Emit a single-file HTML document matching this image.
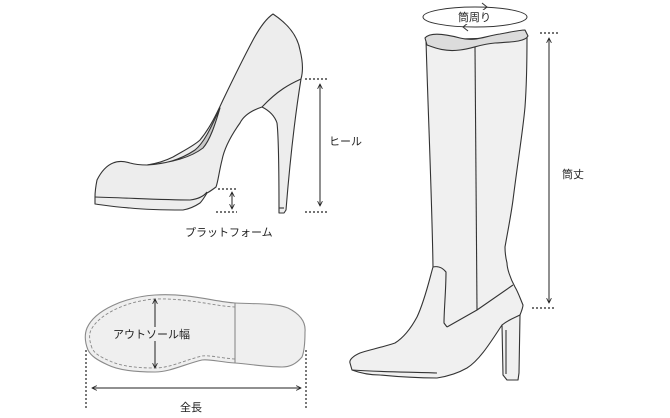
<!DOCTYPE html>
<html><head><meta charset="utf-8"><style>
html,body{margin:0;padding:0;background:#fff;width:670px;height:418px;overflow:hidden}
svg{display:block}
text{font-family:"Liberation Sans","Noto Sans CJK JP",sans-serif;font-size:11px;fill:#222}
</style></head><body>
<svg width="670" height="418" viewBox="0 0 670 418" xmlns="http://www.w3.org/2000/svg">
<defs>
<marker id="a" viewBox="0 0 10 10" refX="9" refY="5" markerWidth="6" markerHeight="6" orient="auto-start-reverse"><path d="M1,1 L9,5 L1,9" fill="none" stroke="#222" stroke-width="1.4"/></marker>
</defs>
<!-- Pump -->
<g stroke="#333" stroke-width="1.1" fill="#ededed" stroke-linejoin="round">
<path d="M273,14 C285,22 297,33 300,50 C303,62 303,72 301,79 C296,110 290,160 286,210 L284,213 L279,213 C279,180 279,140 277,123 C275,117 270,111 262,107 C250,111 243,117 240,123 C230,137 224,150 222,160 C219,172 218,182 216,187 C212,190 209,192 207,193 C204,198 202,201 200,203 C194,207 189,209 183,210 C160,210 140,209 130,208 C115,207 103,205 95,204 L95,197 C95,190 96,185 97,180 C102,170 108,165 113,163 C120,160 127,162 130,163 C137,165 142,165 147,165 C160,163 167,160 173,157 C185,150 195,145 200,140 C210,128 217,113 223,100 C235,75 245,55 253,40 C260,27 267,18 273,14 Z"/>
<path d="M147,165 C165,164 180,160 195,150 C205,142 212,125 220,108 C215,125 210,140 203,148 C190,158 170,163 147,165 Z" fill="#c9c9c9"/>
<path d="M301,79 C290,84 278,90 262,107" fill="none"/>
<path d="M95,197 C130,198 165,200 190,200 C198,199 204,196 207,192" fill="none"/>
<path d="M279,208 L284,208" fill="none"/>
</g>
<g stroke="#222" stroke-width="1.2" stroke-dasharray="2,2">
<path d="M305,79 H327 M305,212 H327 M218,189 H238 M216,212 H237"/>
</g>
<g stroke="#222" stroke-width="1" fill="none">
<path d="M320,84 V206" marker-start="url(#a)" marker-end="url(#a)"/>
<path d="M232,192 V209" marker-start="url(#a)" marker-end="url(#a)"/>
</g>
<text x="329" y="145">ヒール</text>
<text x="185" y="236">プラットフォーム</text>

<!-- Boot -->
<g stroke="#333" stroke-width="1.1" fill="#f0f0f0" stroke-linejoin="round">
<path d="M426,40 C428,110 432,200 433,267 C430,277 425,300 417,317 C410,330 403,338 395,343 C380,348 368,350 360,353 C353,356 349,360 350,363 L352,370 C360,373 370,375 380,375 C400,377 420,378 437,378 C450,376 460,372 467,368 C480,360 492,340 502,325 L503,375 L507,380 L518,380 L519,373 L520,315 C522,310 523,307 523,305 C520,298 518,292 515,287 C510,278 507,268 507,263 C505,255 505,250 505,247 C508,230 511,215 513,200 C518,160 523,130 525,107 C527,80 527,55 527,37 Z"/>
<path d="M425,38 C430,32 445,34 460,38 C475,42 485,36 500,34 C510,32 520,30 525,30 L528,36 C525,42 510,42 495,43 C480,44 472,49 460,50 C445,52 435,48 427,45 Z" fill="#dcdcdc"/>
<path d="M475,47 C476,150 477,250 477,310" fill="none"/>
<path d="M513,285 L477,310 L447,327" fill="none"/>
<path d="M433,267 C437,266 442,267 446,272 C446,290 444,310 444,323 L447,327" fill="none"/>
<path d="M352,370 C380,372 410,372 437,373" fill="none"/>
<path d="M502,325 C508,320 514,318 520,315" fill="none"/>
<path d="M506,330 L506,374" fill="none"/>
</g>
<ellipse cx="475" cy="17" rx="52" ry="10" fill="none" stroke="#333" stroke-width="1"/>
<path d="M482,3 L487,7 L482,11" fill="none" stroke="#333" stroke-width="1"/>
<path d="M468,23 L463,27 L468,31" fill="none" stroke="#333" stroke-width="1"/>
<rect x="457" y="10" width="38" height="14" fill="#fff"/>
<text x="458" y="21">筒周り</text>
<g stroke="#222" stroke-width="1.2" stroke-dasharray="2,2">
<path d="M540,33 H558 M532,308 H556"/>
</g>
<path d="M549,38 V303" stroke="#222" stroke-width="1" fill="none" marker-start="url(#a)" marker-end="url(#a)"/>
<text x="562" y="178">筒丈</text>

<!-- Sole -->
<path d="M88,350 C84,340 85,333 87,328 C95,310 125,297 155,295 C190,293 215,302 235,303 C255,304 275,303 288,308 C300,314 306,322 305,332 C305,345 304,352 302,357 C296,364 290,367 282,367 C265,367 250,364 235,363 C220,362 210,359 202,360 C185,364 170,372 155,372 C135,372 118,370 108,365 C97,360 91,356 88,350 Z" fill="#efefef" stroke="#8a8a8a" stroke-width="1.1"/>
<path d="M92,348 C89,340 89,334 91,330 C99,314 127,301 155,299 C189,298 213,306 235,307" fill="none" stroke="#888" stroke-width="0.9" stroke-dasharray="3,2"/>
<path d="M235,359 C220,358 210,355 202,356 C185,360 170,368 155,368 C136,368 120,366 110,361 C100,357 94,353 92,348" fill="none" stroke="#888" stroke-width="0.9" stroke-dasharray="3,2"/>
<path d="M235,303 V363" stroke="#8a8a8a" stroke-width="1.1"/>
<path d="M155,299 V368" stroke="#222" stroke-width="1" fill="none" marker-start="url(#a)" marker-end="url(#a)"/>
<rect x="112" y="327" width="84" height="14" fill="#efefef"/>
<text x="113" y="338">アウトソール幅</text>
<g stroke="#222" stroke-width="1.2" stroke-dasharray="2,2">
<path d="M86,350 V410 M306,350 V410"/>
</g>
<path d="M92,388 H301" stroke="#222" stroke-width="1" fill="none" marker-start="url(#a)" marker-end="url(#a)"/>
<text x="180" y="411">全長</text>
</svg>
</body></html>
